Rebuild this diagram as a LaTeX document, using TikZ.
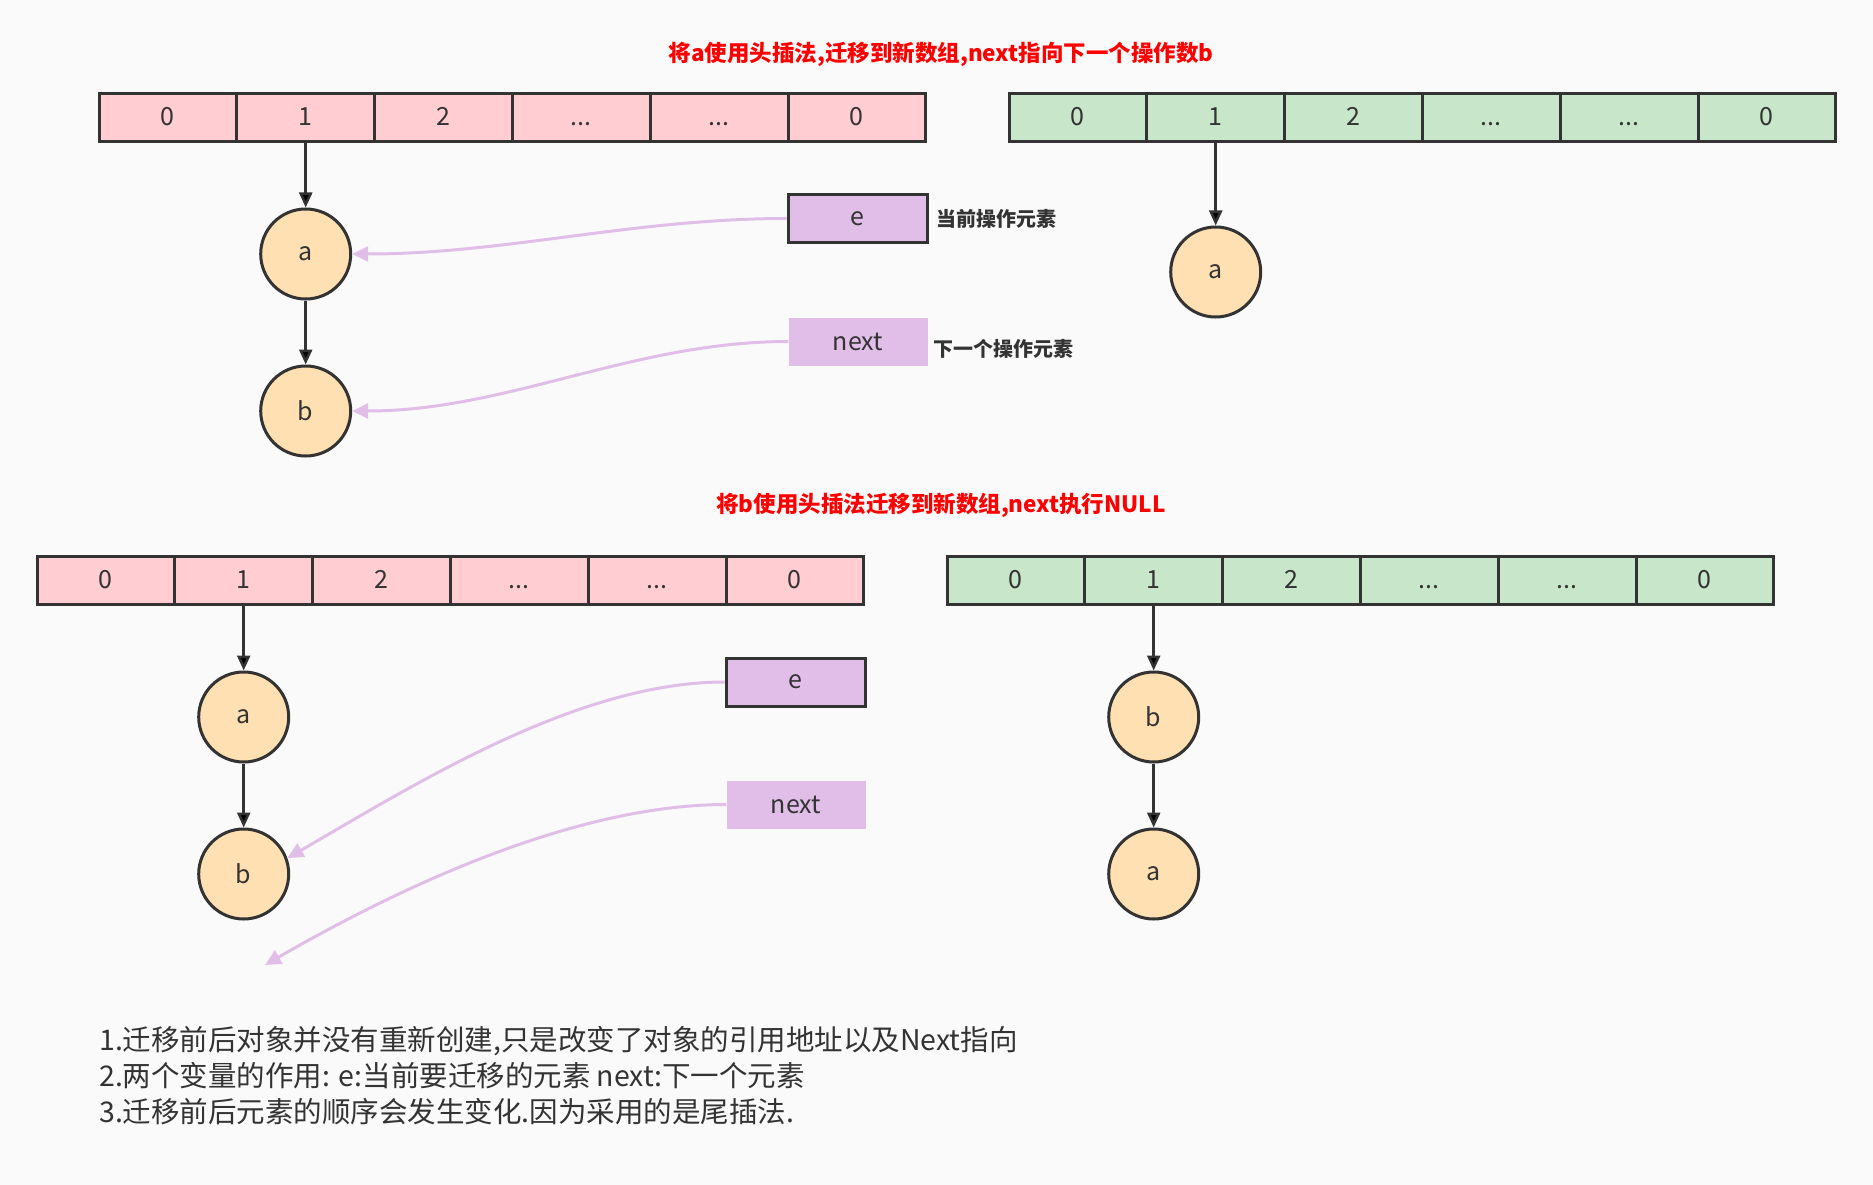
\documentclass[tikz,border=0pt]{standalone}
\usepackage{fontspec}
\setmainfont{Noto Sans CJK SC}
\usetikzlibrary{arrows.meta,positioning}

\definecolor{bggray}{HTML}{FAFAFA}
\definecolor{linegray}{HTML}{333333}
\definecolor{oldpink}{HTML}{FFCDD2}
\definecolor{newgreen}{HTML}{C8E6C9}
\definecolor{entryorange}{HTML}{FFE0B2}
\definecolor{ptrpurple}{HTML}{E1BEE7}

\tikzset{
  slot/.style={draw=linegray, line width=3pt, minimum width=137.8pt, minimum height=48pt,
    inner sep=0pt, text height=18pt, text depth=2pt, text=linegray,
    font=\fontsize{25}{25}\selectfont},
  oldslot/.style={slot, fill=oldpink},
  newslot/.style={slot, fill=newgreen},
  entry/.style={circle, draw=linegray, fill=entryorange, line width=3pt, minimum size=90pt,
    inner sep=0pt, text=linegray, font=\fontsize{25}{25}\selectfont},
  var/.style={fill=ptrpurple, minimum width=139pt, minimum height=48pt, inner sep=0pt,
    text=linegray, font=\fontsize{25}{25}\selectfont},
  title/.style={text=red, font=\bfseries\fontsize{22.5}{22.5}\selectfont},
  note/.style={text=linegray, inner sep=0pt, font=\bfseries\fontsize{20}{20}\selectfont},
  ptr/.style={draw=linegray, line width=2.5pt, -{Triangle[length=15pt,width=13pt]}},
  link/.style={draw=ptrpurple, line width=3pt, -{Triangle[length=16pt,width=15pt]}}
}

\begin{document}
\begin{tikzpicture}[x=1pt, y=-1pt]
\fill[bggray] (0,0) rectangle (1873,1185);
\useasboundingbox (0,0) rectangle (1873,1185);

% step 1: move a
\node[title] (T1) at (941, 54) {将a使用头插法,迁移到新数组,next指向下一个操作数b};

\node[oldslot] (P0) at (167.9, 118) {0};
\node[oldslot] (P1) at (305.7, 118) {1};
\node[oldslot] (P2) at (443.5, 118) {2};
\node[oldslot] (P3) at (581.3, 118) {...};
\node[oldslot] (P4) at (719.1, 118) {...};
\node[oldslot] (P5) at (856.9, 118) {0};

\node[newslot] (G0) at (1077.9, 118) {0};
\node[newslot] (G1) at (1215.7, 118) {1};
\node[newslot] (G2) at (1353.5, 118) {2};
\node[newslot] (G3) at (1491.3, 118) {...};
\node[newslot] (G4) at (1629.1, 118) {...};
\node[newslot] (G5) at (1766.9, 118) {0};

\node[entry] (a1) at (305.7, 254) {a};
\node[entry] (b1) at (305.7, 411) {b};
\node[entry] (a1n) at (1215.7, 272) {a};

\node[var, draw=linegray, line width=3pt] (e1) at (857.5, 218.5) {e};
\node[var] (n1) at (858, 341.5) {next};
\node[note, right=8pt of e1] (e1note) {当前操作元素};
\node[note, right=6pt of n1, yshift=-7pt] (n1note) {下一个操作元素};

\path[ptr]
(P1) edge (a1)
(a1) edge (b1)
(G1) edge (a1n);
\draw[link] (e1.west) to[out=180, in=0, looseness=0.9] (a1.east);
\draw[link] (n1.west) to[out=180, in=0, looseness=0.9] (b1.east);

% step 2: move b
\node[title] (T2) at (941, 505) {将b使用头插法迁移到新数组,next执行NULL};

\node[oldslot] (Q0) at (105.9, 580.5) {0};
\node[oldslot] (Q1) at (243.7, 580.5) {1};
\node[oldslot] (Q2) at (381.5, 580.5) {2};
\node[oldslot] (Q3) at (519.3, 580.5) {...};
\node[oldslot] (Q4) at (657.1, 580.5) {...};
\node[oldslot] (Q5) at (794.9, 580.5) {0};

\node[newslot] (H0) at (1015.9, 580.5) {0};
\node[newslot] (H1) at (1153.7, 580.5) {1};
\node[newslot] (H2) at (1291.5, 580.5) {2};
\node[newslot] (H3) at (1429.3, 580.5) {...};
\node[newslot] (H4) at (1567.1, 580.5) {...};
\node[newslot] (H5) at (1704.9, 580.5) {0};

\node[entry] (a2) at (243.7, 717) {a};
\node[entry] (b2) at (243.7, 874) {b};
\node[entry] (b2n) at (1153.7, 717) {b};
\node[entry] (a2n) at (1153.7, 874) {a};

\node[var, draw=linegray, line width=3pt] (e2) at (795.5, 682) {e};
\node[var] (n2) at (796, 804.5) {next};
\coordinate (null) at (265, 965);

\path[ptr]
(Q1) edge (a2)
(a2) edge (b2)
(H1) edge (b2n)
(b2n) edge (a2n);
\draw[link] (e2.west) to[out=180, in=30, looseness=0.8] (b2.20);
\draw[link] (n2.west) to[out=180, in=30, looseness=0.8] (null);

% notes
\node[anchor=west, align=left, inner sep=0pt, text=linegray,
  font=\fontsize{28.5}{36}\selectfont] (notes) at (99, 1076)
  {1.迁移前后对象并没有重新创建,只是改变了对象的引用地址以及Next指向\\
   2.两个变量的作用: e:当前要迁移的元素 next:下一个元素\\
   3.迁移前后元素的顺序会发生变化.因为采用的是尾插法.};
\end{tikzpicture}
\end{document}
